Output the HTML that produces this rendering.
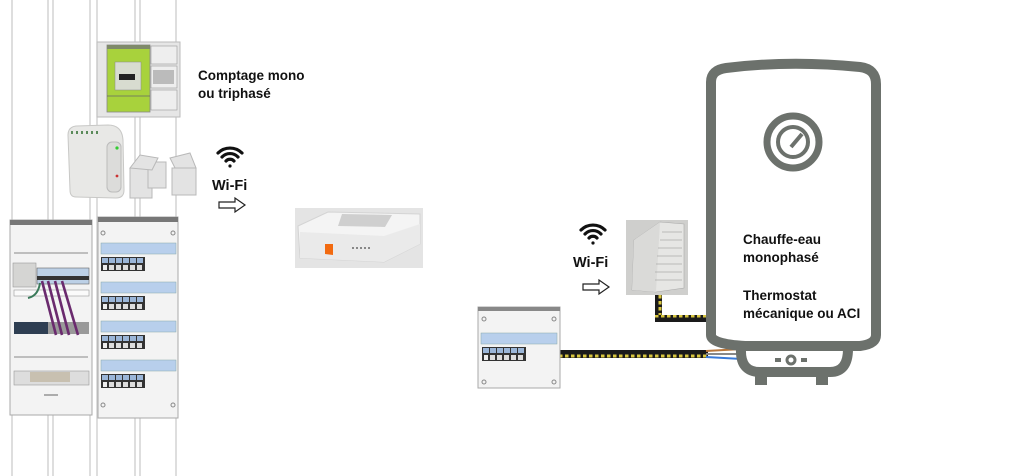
<!DOCTYPE html>
<html><head><meta charset="utf-8"><style>
html,body{margin:0;padding:0;background:#fff;width:1024px;height:476px;overflow:hidden}
svg{display:block}
text{font-family:"Liberation Sans",sans-serif;font-weight:bold;fill:#111}
</style></head><body>
<svg width="1024" height="476" viewBox="0 0 1024 476" xmlns="http://www.w3.org/2000/svg">
<defs>
<pattern id="cab" width="6" height="8" patternUnits="userSpaceOnUse">
<rect width="6" height="8" fill="#1a1a1a"/><rect x="1" y="2.5" width="3.5" height="3" fill="#d8c640"/>
</pattern>
<pattern id="cabv" width="8" height="6" patternUnits="userSpaceOnUse">
<rect width="8" height="6" fill="#1a1a1a"/><rect x="2.5" y="1" width="3" height="3.5" fill="#d8c640"/>
</pattern>
<g id="brk">
<rect x="0" y="0" width="44" height="14" fill="#333"/>
<rect x="1" y="1" width="6" height="5" fill="#9bb6d8"/><rect x="8" y="1" width="6" height="5" fill="#9bb6d8"/><rect x="15" y="1" width="6" height="5" fill="#9bb6d8"/><rect x="22" y="1" width="6" height="5" fill="#9bb6d8"/><rect x="29" y="1" width="6" height="5" fill="#9bb6d8"/><rect x="36" y="1" width="6" height="5" fill="#9bb6d8"/>
<rect x="8" y="8" width="5" height="5" fill="#ddd"/><rect x="15" y="8" width="5" height="5" fill="#ddd"/><rect x="22" y="8" width="5" height="5" fill="#ddd"/><rect x="29" y="8" width="5" height="5" fill="#ddd"/><rect x="36" y="8" width="5" height="5" fill="#ddd"/>
<rect x="2" y="8" width="4" height="5" fill="#eee"/>
</g>
<g id="wifi" fill="none" stroke="#111" stroke-width="3.2" stroke-linecap="round">
<path d="M-12,-4 A17,17 0 0 1 12,-4"/><path d="M-8,0 A11,11 0 0 1 8,0"/><path d="M-4,4 A5.5,5.5 0 0 1 4,4"/>
<circle cx="0" cy="9" r="1.6" fill="#111" stroke="none"/>
</g>
<path id="arr" d="M0,-3 H16 V-7 L26,0 L16,7 V3 H0 Z" fill="#fff" stroke="#222" stroke-width="1.2"/>
</defs>

<g stroke="#c9c9c9" stroke-width="1.2">
<line x1="12" y1="0" x2="12" y2="476"/><line x1="48" y1="0" x2="48" y2="476"/><line x1="53" y1="0" x2="53" y2="476"/>
<line x1="90" y1="0" x2="90" y2="476"/><line x1="97" y1="0" x2="97" y2="476"/>
<line x1="135" y1="0" x2="135" y2="476"/><line x1="140" y1="0" x2="140" y2="476"/><line x1="176" y1="0" x2="176" y2="476"/>
</g>

<rect x="97" y="42" width="83" height="75" fill="#e6e6e6" stroke="#bbb"/>
<rect x="107" y="45" width="43" height="67" fill="#a8d23c" stroke="#888" stroke-width="0.8"/>
<rect x="107" y="45" width="43" height="4" fill="#7f8a6a"/>
<rect x="115" y="62" width="26" height="28" fill="#d8dcd0" stroke="#888" stroke-width="0.5"/>
<rect x="119" y="74" width="16" height="6" fill="#222"/>
<line x1="107" y1="96" x2="150" y2="96" stroke="#666" stroke-width="0.8"/>
<rect x="151" y="46" width="26" height="18" fill="#eee" stroke="#999" stroke-width="0.6"/>
<rect x="151" y="66" width="26" height="22" fill="#eee" stroke="#999" stroke-width="0.6"/>
<rect x="153" y="70" width="21" height="14" fill="#bbb"/>
<rect x="151" y="90" width="26" height="20" fill="#eee" stroke="#999" stroke-width="0.6"/>

<path d="M68,135 Q68,127 76,126 L108,125 Q122,125 123,140 L124,190 Q124,198 116,198 L76,197 Q70,197 70,190 Z" fill="#e8e8e6" stroke="#c8c8c6"/>
<rect x="107" y="142" width="14" height="50" rx="5" fill="#dcdcda" stroke="#bbb"/>
<circle cx="117" cy="148" r="1.6" fill="#3c3"/><circle cx="117" cy="176" r="1.4" fill="#c33"/>
<g fill="#5a8a5a"><rect x="71" y="131" width="2" height="3"/><rect x="76" y="131" width="2" height="3"/><rect x="81" y="131" width="2" height="3"/><rect x="86" y="131" width="2" height="3"/><rect x="91" y="131" width="2" height="3"/><rect x="96" y="131" width="2" height="3"/></g>
<g fill="#e3e3e3" stroke="#b8b8b8">
<rect x="130" y="168" width="22" height="30"/><rect x="148" y="162" width="18" height="26"/>
<path d="M130,168 L140,155 L158,158 L152,170 Z"/><path d="M170,158 L190,153 L196,168 L176,170 Z"/>
<rect x="172" y="168" width="24" height="27"/>
</g>

<text x="198" y="80" font-size="13.5">Comptage mono</text>
<text x="198" y="98" font-size="13.5">ou triphasé</text>

<use href="#wifi" x="230" y="157"/>
<text x="212" y="190" font-size="14.5">Wi-Fi</text>
<use href="#arr" x="219" y="205"/>

<rect x="295" y="208" width="128" height="60" fill="#e4e4e4"/>
<path d="M298,226 L328,212 L420,214 L420,244 L384,262 L300,258 Z" fill="#f4f4f4" stroke="#d4d4d4"/>
<path d="M300,232 L384,236 L420,224 L420,244 L384,262 L300,258 Z" fill="#eaeaea"/>
<path d="M342,214 L392,215 L385,227 L338,226 Z" fill="#cfcfcf"/>
<path d="M325,244 L333,244 L333,255 L325,254 Z" fill="#f26a10"/>
<g fill="#888"><rect x="352" y="247" width="2" height="2"/><rect x="356" y="247" width="2" height="2"/><rect x="360" y="247" width="2" height="2"/><rect x="364" y="247" width="2" height="2"/><rect x="368" y="247" width="2" height="2"/></g>

<rect x="10" y="220" width="82" height="195" fill="#f3f3f3" stroke="#aaa"/>
<rect x="10" y="220" width="82" height="5" fill="#777"/>
<line x1="14" y1="253" x2="88" y2="253" stroke="#888"/>
<rect x="13" y="263" width="23" height="24" fill="#d5d5d3" stroke="#999" stroke-width="0.6"/>
<rect x="37" y="268" width="52" height="16" fill="#bcd0e6" stroke="#666" stroke-width="0.6"/>
<rect x="37" y="276" width="52" height="4" fill="#333"/>
<rect x="14" y="290" width="75" height="6" fill="#fafafa" stroke="#999" stroke-width="0.6"/>
<rect x="14" y="322" width="75" height="12" fill="#2e3e52"/>
<rect x="48" y="322" width="41" height="12" fill="#999"/>
<g stroke="#6a2a6e" stroke-width="2.6"><line x1="42" y1="281" x2="56" y2="335"/><line x1="48" y1="281" x2="62" y2="335"/><line x1="55" y1="281" x2="69" y2="335"/><line x1="62" y1="281" x2="78" y2="335"/></g>
<path d="M40,283 Q38,296 28,298" fill="none" stroke="#3a7a5a" stroke-width="2"/>
<line x1="14" y1="357" x2="88" y2="357" stroke="#888"/>
<rect x="14" y="371" width="75" height="14" fill="#ddd" stroke="#999" stroke-width="0.6"/>
<rect x="30" y="372" width="40" height="10" fill="#c8c0b0"/>
<line x1="44" y1="395" x2="58" y2="395" stroke="#666"/>

<rect x="98" y="217" width="80" height="201" fill="#f3f3f3" stroke="#aaa"/>
<rect x="98" y="217" width="80" height="5" fill="#777"/>
<g fill="none" stroke="#888"><circle cx="103" cy="233" r="2"/><circle cx="173" cy="233" r="2"/><circle cx="103" cy="405" r="2"/><circle cx="173" cy="405" r="2"/></g>
<g fill="#b8cfec" stroke="#8aa" stroke-width="0.5">
<rect x="101" y="243" width="75" height="11"/><rect x="101" y="282" width="75" height="11"/><rect x="101" y="321" width="75" height="11"/><rect x="101" y="360" width="75" height="11"/>
</g>
<use href="#brk" x="101" y="257"/><use href="#brk" x="101" y="296"/><use href="#brk" x="101" y="335"/><use href="#brk" x="101" y="374"/>

<use href="#wifi" x="593" y="234"/>
<text x="573" y="267" font-size="14.5">Wi-Fi</text>
<use href="#arr" x="583" y="287"/>

<rect x="626" y="220" width="62" height="75" fill="#cfcfcd"/>
<path d="M632,290 L634,240 L660,222 L684,224 L684,288 L656,292 Z" fill="#e6e6e4" stroke="#aaa" stroke-width="0.6"/>
<path d="M632,290 L634,240 L660,222 L656,292 Z" fill="#dadad8"/>
<g stroke="#aaa" stroke-width="0.8"><line x1="662" y1="232" x2="682" y2="232"/><line x1="660" y1="240" x2="682" y2="240"/><line x1="658" y1="248" x2="682" y2="248"/><line x1="657" y1="256" x2="682" y2="256"/><line x1="656" y1="264" x2="682" y2="264"/><line x1="655" y1="272" x2="682" y2="272"/><line x1="655" y1="280" x2="682" y2="280"/></g>

<rect x="655" y="295" width="7" height="25" fill="url(#cabv)"/>
<rect x="655" y="315" width="55" height="7" fill="url(#cab)"/>
<rect x="560" y="350" width="148" height="8" fill="url(#cab)"/>
<path d="M706,351 L742,349" stroke="#b8763a" stroke-width="2"/><path d="M706,354 L742,354" stroke="#888" stroke-width="2"/><path d="M706,357 L742,359" stroke="#3a7ad8" stroke-width="2"/>

<rect x="478" y="307" width="82" height="81" fill="#f3f3f3" stroke="#aaa"/>
<rect x="478" y="307" width="82" height="4" fill="#888"/>
<g fill="none" stroke="#888"><circle cx="484" cy="319" r="2"/><circle cx="554" cy="319" r="2"/><circle cx="484" cy="382" r="2"/><circle cx="554" cy="382" r="2"/></g>
<rect x="481" y="333" width="76" height="11" fill="#b8cfec" stroke="#8aa" stroke-width="0.5"/>
<use href="#brk" x="482" y="347"/>

<path d="M711,82 Q711,70 726,68 Q790,60 860,67 Q876,69 876,84 L876,335 Q876,344 860,346 L745,346 Q711,344 711,335 Z" fill="#fff" stroke="#6c716c" stroke-width="10" stroke-linejoin="round"/>
<path d="M741,349 Q740,372 760,372 L830,372 Q848,372 848,349" fill="none" stroke="#6c716c" stroke-width="10"/>
<path d="M757,372 v11 h8 v-11 M818,372 v11 h8 v-11" fill="#6c716c" stroke="#6c716c" stroke-width="4"/>
<rect x="775" y="358" width="6" height="4" fill="#6c716c"/><rect x="801" y="358" width="6" height="4" fill="#6c716c"/>
<circle cx="791" cy="360" r="4" fill="none" stroke="#6c716c" stroke-width="3"/>
<circle cx="793" cy="142" r="26" fill="none" stroke="#6c716c" stroke-width="7"/>
<circle cx="793" cy="142" r="15" fill="none" stroke="#6c716c" stroke-width="4"/>
<line x1="791" y1="147" x2="802" y2="134" stroke="#6c716c" stroke-width="4"/>

<text x="743" y="244" font-size="13.5">Chauffe-eau</text>
<text x="743" y="262" font-size="13.5">monophasé</text>
<text x="743" y="300" font-size="13.5">Thermostat</text>
<text x="743" y="318" font-size="13.5">mécanique ou ACI</text>
</svg>
</body></html>
